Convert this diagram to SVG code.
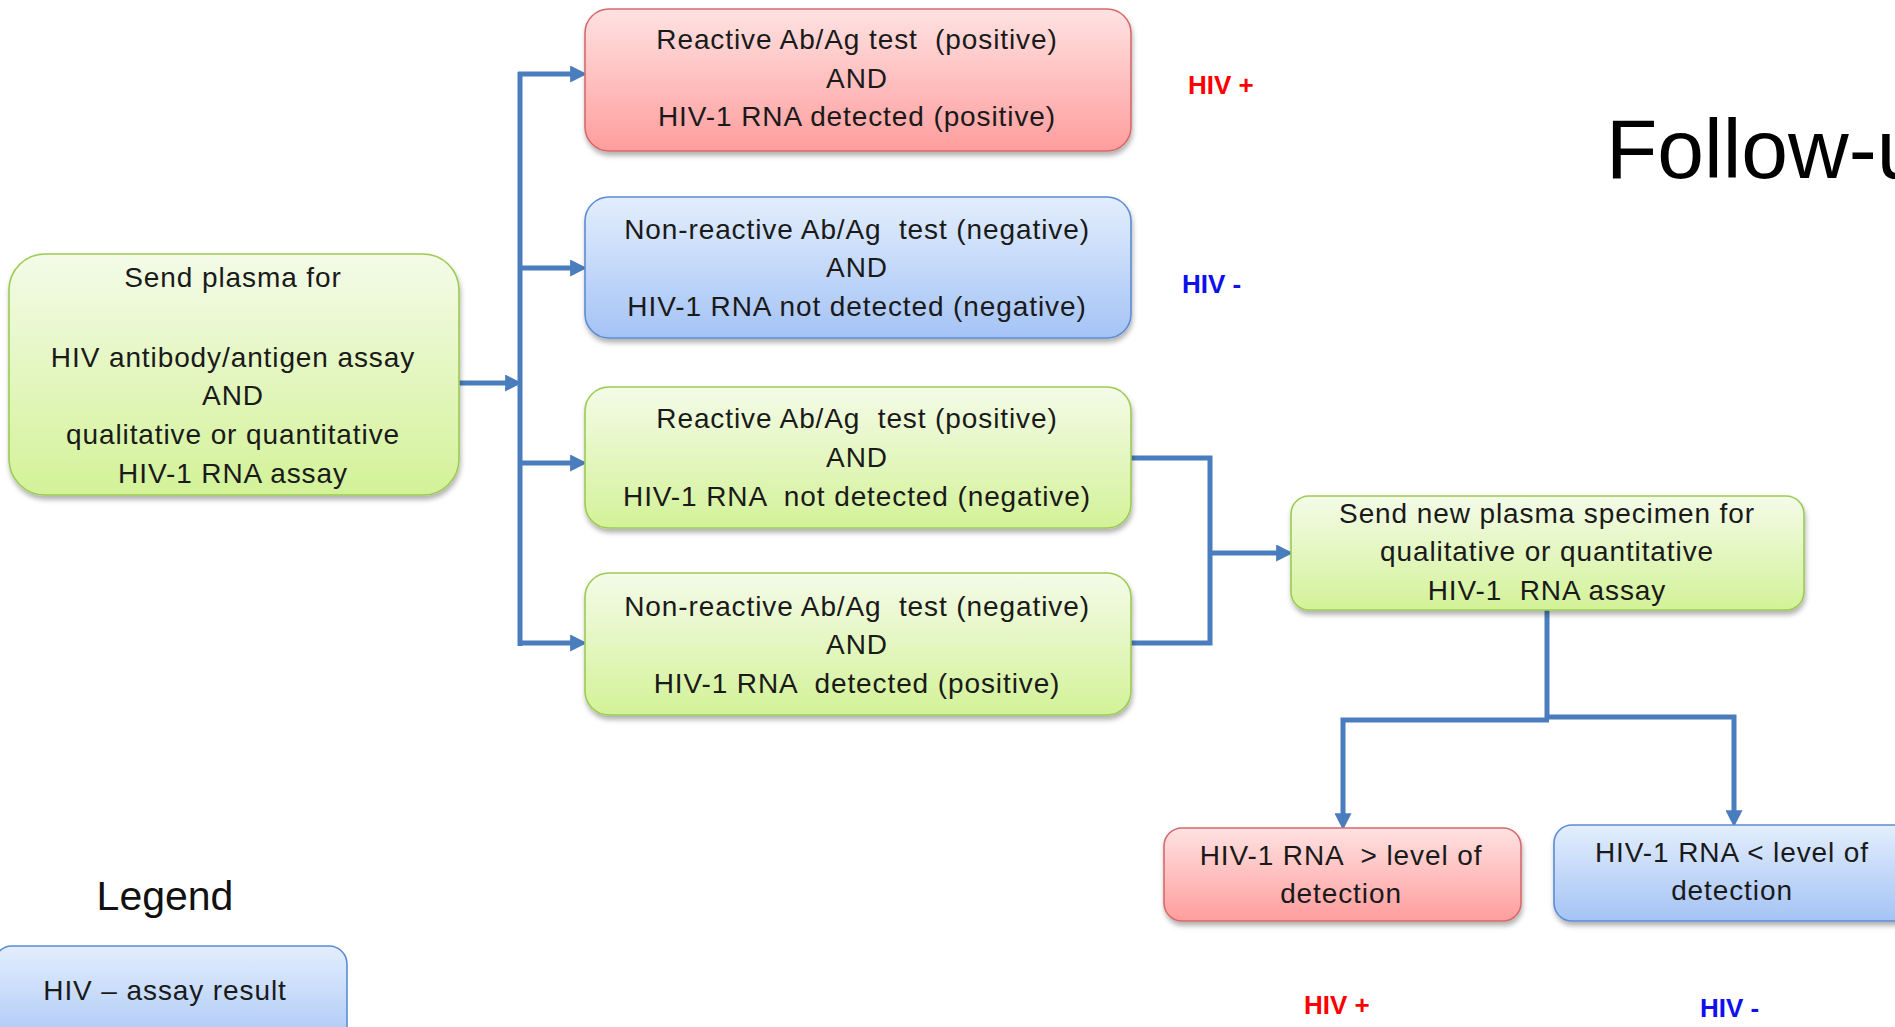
<svg xmlns="http://www.w3.org/2000/svg" width="1895" height="1027" viewBox="0 0 1895 1027">
<defs>
<linearGradient id="gRed" x1="0" y1="0" x2="0" y2="1"><stop offset="0" stop-color="#ffe2e2"/><stop offset="1" stop-color="#ff9d9d"/></linearGradient>
<linearGradient id="gBlue" x1="0" y1="0" x2="0" y2="1"><stop offset="0" stop-color="#e3eefd"/><stop offset="1" stop-color="#a4c3f5"/></linearGradient>
<linearGradient id="gGreen" x1="0" y1="0" x2="0" y2="1"><stop offset="0" stop-color="#f4fbe8"/><stop offset="1" stop-color="#d3f298"/></linearGradient>
<filter id="sh" x="-5%" y="-10%" width="110%" height="130%"><feDropShadow dx="1" dy="4" stdDeviation="2.5" flood-color="#000" flood-opacity="0.3"/></filter>
<marker id="ah" markerUnits="userSpaceOnUse" markerWidth="17" markerHeight="17" viewBox="0 0 14 14" refX="4" refY="7" orient="auto"><path d="M0,0 L14,7 L0,14 z" fill="#4a7dbd"/></marker>
<style>
.red{fill:url(#gRed);stroke:#d8696b;stroke-width:1.6}
.blue{fill:url(#gBlue);stroke:#5b8dd5;stroke-width:1.6}
.green{fill:url(#gGreen);stroke:#9ccb52;stroke-width:1.6}
.t{font-family:"Liberation Sans",Arial,sans-serif;font-size:28px;letter-spacing:0.9px;fill:#1a1a1a;text-anchor:middle;white-space:pre}
.lbl{font-family:"Liberation Sans",Arial,sans-serif;font-size:26px;font-weight:bold}
.conn{fill:none;stroke:#4a7dbd;stroke-width:5}
</style>
</defs>
<rect width="1895" height="1027" fill="#ffffff"/>

<g id="connectors">
<path class="conn" d="M459,383 H510" marker-end="url(#ah)"/>
<path class="conn" d="M520,72 V646"/>
<path class="conn" d="M518,74 H575" marker-end="url(#ah)"/>
<path class="conn" d="M520,268 H575" marker-end="url(#ah)"/>
<path class="conn" d="M520,463 H575" marker-end="url(#ah)"/>
<path class="conn" d="M518,643 H575" marker-end="url(#ah)"/>
<path class="conn" d="M1131,458 H1210 V643 H1131"/>
<path class="conn" d="M1210,553 H1281" marker-end="url(#ah)"/>
<path class="conn" d="M1547,610 V719"/>
<path class="conn" d="M1549,720 H1343 V818" marker-end="url(#ah)"/>
<path class="conn" d="M1545,717 H1734 V815" marker-end="url(#ah)"/>
</g>

<g id="node-start">
<rect class="green" filter="url(#sh)" x="9" y="254" width="450" height="241" rx="36"/>
<text class="t" x="233" y="287">Send plasma for</text>
<text class="t" x="233" y="367">HIV antibody/antigen assay</text>
<text class="t" x="233" y="405">AND</text>
<text class="t" x="233" y="444">qualitative or quantitative</text>
<text class="t" x="233" y="483">HIV-1 RNA assay</text>
</g>

<g id="node-r1">
<rect class="red" filter="url(#sh)" x="585" y="9" width="546" height="142" rx="24"/>
<text class="t" x="857" y="49">Reactive Ab/Ag test  (positive)</text>
<text class="t" x="857" y="88">AND</text>
<text class="t" x="857" y="126">HIV-1 RNA detected (positive)</text>
</g>

<g id="node-r2">
<rect class="blue" filter="url(#sh)" x="585" y="197" width="546" height="141" rx="24"/>
<text class="t" x="857" y="239">Non-reactive Ab/Ag  test (negative)</text>
<text class="t" x="857" y="277">AND</text>
<text class="t" x="857" y="316">HIV-1 RNA not detected (negative)</text>
</g>

<g id="node-r3">
<rect class="green" filter="url(#sh)" x="585" y="387" width="546" height="141" rx="24"/>
<text class="t" x="857" y="428">Reactive Ab/Ag  test (positive)</text>
<text class="t" x="857" y="467">AND</text>
<text class="t" x="857" y="506">HIV-1 RNA  not detected (negative)</text>
</g>

<g id="node-r4">
<rect class="green" filter="url(#sh)" x="585" y="573" width="546" height="142" rx="24"/>
<text class="t" x="857" y="616">Non-reactive Ab/Ag  test (negative)</text>
<text class="t" x="857" y="654">AND</text>
<text class="t" x="857" y="693">HIV-1 RNA  detected (positive)</text>
</g>

<g id="node-retest">
<rect class="green" filter="url(#sh)" x="1291" y="496" width="513" height="114" rx="18"/>
<text class="t" x="1547" y="523">Send new plasma specimen for</text>
<text class="t" x="1547" y="561">qualitative or quantitative</text>
<text class="t" x="1547" y="600">HIV-1  RNA assay</text>
</g>

<g id="node-above">
<rect class="red" filter="url(#sh)" x="1164" y="828" width="357" height="93" rx="18"/>
<text class="t" x="1341" y="865">HIV-1 RNA  &gt; level of</text>
<text class="t" x="1341" y="903">detection</text>
</g>

<g id="node-below">
<rect class="blue" filter="url(#sh)" x="1554" y="825" width="380" height="96" rx="18"/>
<text class="t" x="1732" y="862">HIV-1 RNA &lt; level of</text>
<text class="t" x="1732" y="900">detection</text>
</g>

<g id="labels">
<text class="lbl" x="1188" y="94" fill="#ff0000">HIV +</text>
<text class="lbl" x="1182" y="293" fill="#1010ee">HIV -</text>
<text class="lbl" x="1304" y="1014" fill="#ff0000">HIV +</text>
<text class="lbl" x="1700" y="1017" fill="#1010ee">HIV -</text>
<text x="1606" y="178" font-family="Liberation Sans, Arial, sans-serif" font-size="84" fill="#000">Follow-u</text>
</g>

<g id="legend">
<text x="165" y="910" font-family="Liberation Sans, Arial, sans-serif" font-size="41" fill="#111" text-anchor="middle">Legend</text>
<rect class="blue" x="-6" y="946" width="353" height="110" rx="18"/>
<text class="t" x="165" y="1000">HIV – assay result</text>
</g>
</svg>
